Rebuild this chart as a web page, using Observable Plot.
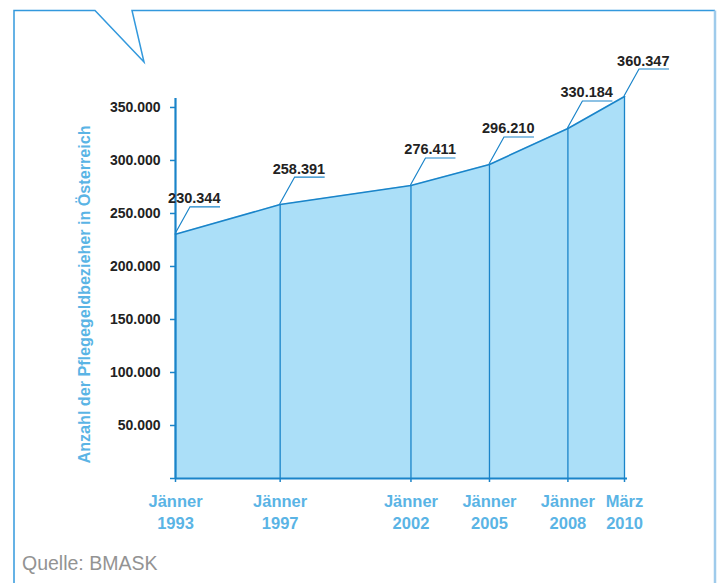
<!DOCTYPE html>
<html>
<head>
<meta charset="utf-8">
<script src="https://cdn.jsdelivr.net/npm/d3@7"></script>
<script src="https://cdn.jsdelivr.net/npm/@observablehq/plot@0.6"></script>
<style>
  html, body { margin: 0; padding: 0; background: #fff; }
  #wrap { position: relative; width: 721px; height: 583px; overflow: hidden; font-family: "Liberation Sans", Arial, sans-serif; }
  #chart { position: absolute; left: 0; top: 0; }
  #frame { position: absolute; left: 0; top: 0; pointer-events: none; }
  #caption { position: absolute; left: 22px; top: 554px; font-size: 19.5px; line-height: 19px; color: #939393; }
</style>
</head>
<body>
<div id="wrap">
  <div id="chart"></div>
  <svg id="frame" width="721" height="583"></svg>
  <div id="caption">Quelle: BMASK</div>
</div>
<script>
// ---- data ----
const dates = ["1993-01-01", "1997-01-01", "2002-01-01", "2005-01-01", "2008-01-01", "2010-03-01"];
const values = [230344, 258391, 276411, 296210, 330184, 360347];
const monthLabels = ["Jänner", "Jänner", "Jänner", "Jänner", "Jänner", "März"];
const yearLabels = ["1993", "1997", "2002", "2005", "2008", "2010"];
const yTicks = [0, 50000, 100000, 150000, 200000, 250000, 300000, 350000];
const yTitle = "Anzahl der Pflegegeldbezieher in Österreich";

// ---- build ----
const data = dates.map((d, i) => ({date: new Date(d + "T00:00:00Z"), value: values[i], month: monthLabels[i], year: yearLabels[i]}));
const fmt = d3.formatLocale({decimal: ",", thousands: ".", grouping: [3], currency: ["", "€"]}).format(",");
const xLabel = new Map(data.map(d => [+d.date, d.month + "\n" + d.year]));

const BLUE = "#1a84c9";
const LIGHT = "#5ab4e5";
const FILL = "#abdff8";

const leaders = (index, scales) => {
  const g = d3.create("svg:g").attr("fill", "none").attr("stroke", BLUE).attr("stroke-width", 1.2);
  for (const d of data) {
    const px = scales.x(d.date), py = scales.y(d.value);
    g.append("path").attr("d", `M${px},${py}L${px + 15},${py - 27}H${px + 45}`);
  }
  return g.node();
};

const chart = Plot.plot({
  width: 721,
  height: 545,
  marginTop: 96,
  marginBottom: 67,
  marginLeft: 175,
  marginRight: 97,
  style: {fontFamily: "'Liberation Sans', Arial, sans-serif", background: "transparent"},
  x: {type: "utc", domain: [data[0].date, data[data.length - 1].date], label: null},
  y: {domain: [0, d3.max(values)], label: null},
  marks: [
    Plot.areaY(data, {x: "date", y: "value", fill: FILL}),
    Plot.ruleX(data, {x: "date", y1: 0, y2: "value", stroke: BLUE, strokeWidth: 1.3}),
    Plot.line(data, {x: "date", y: "value", stroke: BLUE, strokeWidth: 1.6}),
    Plot.ruleY([0], {stroke: BLUE, strokeWidth: 2.2, x1: data[0].date, x2: data[data.length - 1].date, insetRight: -3}),
    Plot.ruleX([data[0].date], {y1: 0, y2: d3.max(values), stroke: BLUE, strokeWidth: 2.2, insetBottom: -2}),
    Plot.axisY({ticks: yTicks, tickFormat: d => d === 0 ? "" : fmt(d), tickSize: 5, tickPadding: 10,
      stroke: BLUE, strokeWidth: 1.5, fill: "#222", fontSize: 14, fontWeight: "bold", label: null}),
    Plot.axisX({ticks: data.map(d => d.date), tickFormat: d => xLabel.get(+d), tickSize: 4, tickPadding: 8,
      stroke: BLUE, strokeWidth: 1.5, fill: LIGHT, fontSize: 16.5, fontWeight: "bold", lineHeight: 1.38, label: null}),
    leaders,
    Plot.text(data, {x: "date", y: "value", text: d => fmt(d.value), dx: 45, dy: -31, textAnchor: "end",
      lineAnchor: "bottom", fill: "#222", fontSize: 14.5, fontWeight: "bold"}),
    Plot.text([yTitle], {frameAnchor: "left", textAnchor: "middle", rotate: -90, dx: -91, dy: 7,
      fill: LIGHT, fontSize: 17, fontWeight: "bold", className: "ytitle"})
  ]
});
document.getElementById("chart").appendChild(chart);

// compress the y title to the reference's condensed width
d3.select(chart).selectAll(".ytitle text").attr("textLength", 338).attr("lengthAdjust", "spacingAndGlyphs");

// decorative frame with speech-bubble notch
const frame = d3.select("#frame");
frame.append("path").attr("d", "M14,583V10.5H95L144,62L132,10.5H715").attr("fill", "none").attr("stroke", "#3399dd").attr("stroke-width", 1.5);
frame.append("path").attr("d", "M715,10.5V583").attr("fill", "none").attr("stroke", "#9fcbeb").attr("stroke-width", 2.5);
</script>
</body>
</html>
